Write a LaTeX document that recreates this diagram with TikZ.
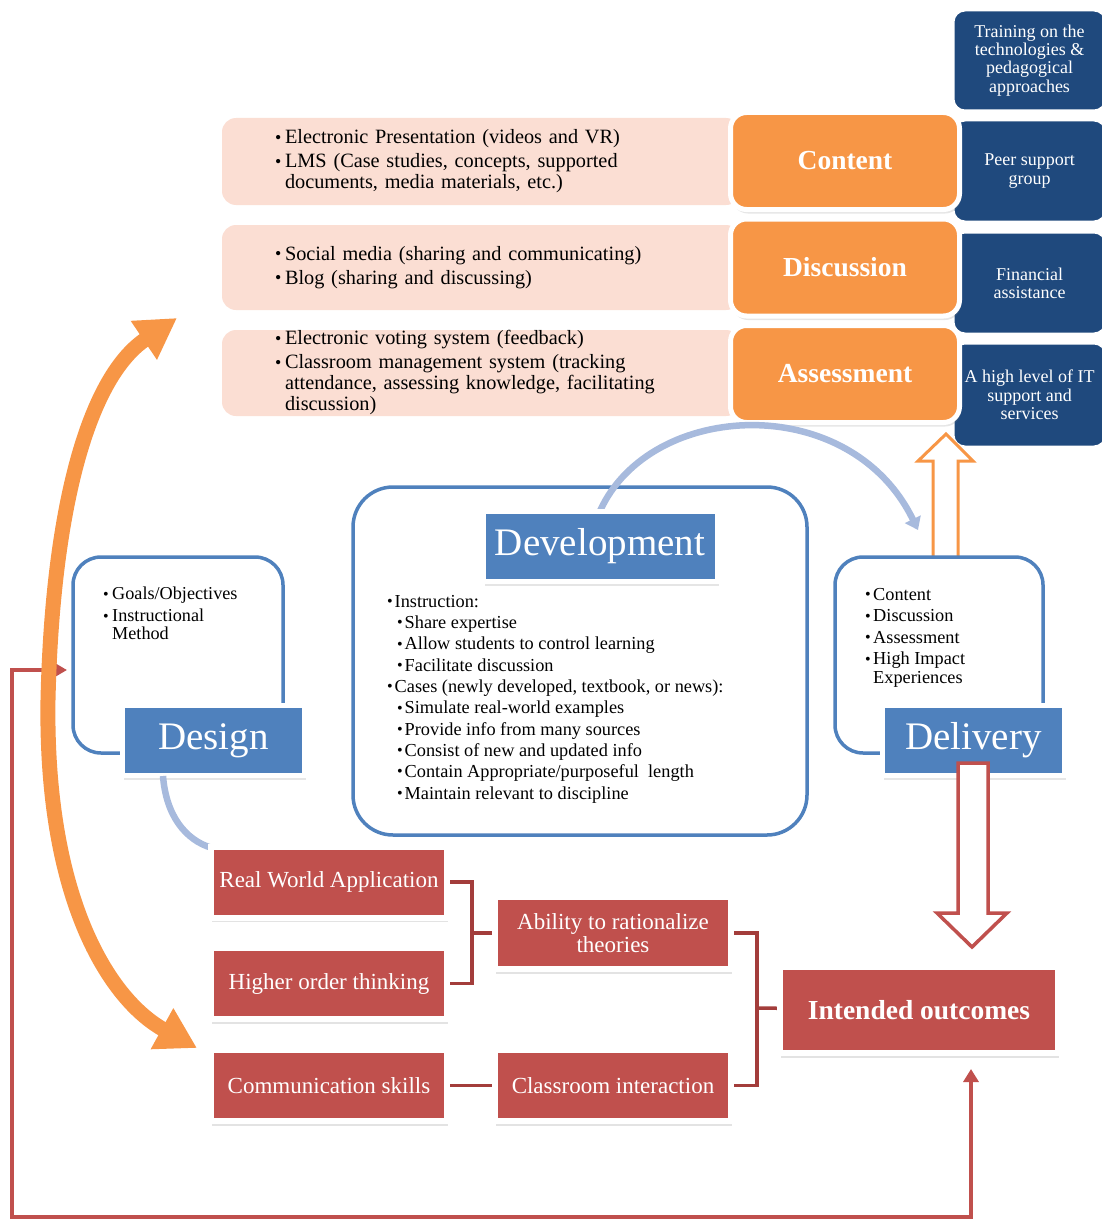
\documentclass[tikz,border=0pt]{standalone}
\usepackage{fontspec}
\usepackage{graphicx}
\setmainfont{Liberation Serif}
\definecolor{ADnavy}{HTML}{1F497D}
\definecolor{ADorange}{HTML}{F79646}
\definecolor{ADpink}{HTML}{FBDED3}
\definecolor{ADblue}{HTML}{4F81BD}
\definecolor{ADarc}{HTML}{A7BADD}
\definecolor{ADred}{HTML}{C0504D}
\definecolor{ADdark}{HTML}{A33D3B}
\usetikzlibrary{arrows.meta, shadows}
\newcommand{\bul}[1][10pt]{\makebox[#1][l]{\raisebox{0.04em}{\scalebox{0.88}{\textbullet}}}}

\begin{document}
\begin{tikzpicture}[x=1pt, y=-1pt,
  navybox/.style={draw=white, line width=3pt, fill=ADnavy, rounded corners=12pt,
    text=white, align=center, minimum width=153pt, inner sep=0pt,
    font=\fontsize{18}{18.3}\selectfont},
  pinkbox/.style={fill=ADpink, rounded corners=14pt, minimum width=518pt,
    text width=412pt, inner xsep=53pt, inner ysep=0pt, align=left,
    font=\fontsize{20.3}{21}\selectfont},
  orgbox/.style={fill=ADorange, draw=white, line width=5pt, rounded corners=16pt,
    minimum width=229pt, minimum height=97pt, text=white,
    font=\fontsize{27.5}{30}\selectfont\bfseries,
    drop shadow={shadow xshift=1.5pt, shadow yshift=-4pt, opacity=0.2}},
  phasebox/.style={draw=ADblue, line width=3.5pt, fill=white, rounded corners=28pt},
  lblbox/.style={fill=ADblue, draw=white, line width=5pt, text=white,
    minimum height=70pt, font=\fontsize{39}{42}\selectfont,
    drop shadow={shadow xshift=1.5pt, shadow yshift=-4.5pt, opacity=0.2}},
  listtxt/.style={anchor=north west, inner sep=0pt, align=left},
  outbox/.style={fill=ADred, draw=white, line width=6pt, text=white, align=center,
    minimum width=236pt, minimum height=71pt, font=\fontsize{23}{23}\selectfont,
    drop shadow={shadow xshift=1pt, shadow yshift=-4.5pt, opacity=0.22}},
  conn/.style={draw=ADdark, line width=3.5pt},
  arcline/.style={draw=ADarc, line width=6.5pt},
  fbline/.style={draw=ADred, line width=3.5pt,
    {Triangle[length=13pt,width=15pt]}-{Triangle[length=12pt,width=13pt]}},
  bigcurve/.style={draw=ADorange, line width=15pt,
    {Triangle[length=40pt,width=44pt]}-{Triangle[length=40pt,width=44pt]}}]

\useasboundingbox (0,0) rectangle (1102,1220);

% feedback loop and big orange double arrow
\coordinate (fbin) at (67,670);
\coordinate (fbout) at (971,1069);
\draw[fbline] (fbout) -- (971,1217) -| (12,670) -- (fbin);
\draw[bigcurve] (177,318) .. controls (85,380) and (52,520) .. (48,700)
  .. controls (45,900) and (110,1000) .. (197,1048);

% support column
\node[navybox, minimum height=101pt] (train) at (1029.5,60.5)
  {Training on the\\technologies \&\\pedagogical\\approaches};
\node[navybox, minimum height=102pt] (peer) at (1029.5,171) {Peer support\\group};
\node[navybox, minimum height=102pt] (fin) at (1029.5,283) {Financial\\assistance};
\node[navybox, minimum height=104pt] (itsup) at (1029.5,395)
  {A high level of IT\\support and\\services};

% tools
\node[pinkbox, minimum height=87pt] (tcont) at (481,161.5)
  {\bul Electronic Presentation (videos and VR)\\[3pt]
   \bul LMS (Case studies, concepts, supported\\
   \hspace*{10pt}documents, media materials, etc.)};
\node[pinkbox, minimum height=85pt] (tdisc) at (481,267.5)
  {\bul Social media (sharing and communicating)\\[3pt]
   \bul Blog (sharing and discussing)};
\node[pinkbox, minimum height=86pt] (tasmt) at (481,373)
  {\bul Electronic voting system (feedback)\\[3pt]
   \bul Classroom management system (tracking\\
   \hspace*{10pt}attendance, assessing knowledge, facilitating\\
   \hspace*{10pt}discussion)};

\node[orgbox] (cont) at (845,161) {Content};
\node[orgbox] (disc) at (845,267.5) {Discussion};
\node[orgbox] (asmt) at (845,374) {Assessment};

% delivery up to the tools
\draw[draw=ADorange, line width=3pt, fill=white]
  (933,560) -- (933,461) -- (918,461) -- (946,434) -- (973,461)
  -- (958,461) -- (958,560) -- cycle;

% phases
\node[phasebox, minimum width=210pt, minimum height=196pt] (dsg) at (178,655) {};
\node[phasebox, rounded corners=40pt, minimum width=454pt, minimum height=348pt]
  (dev) at (580,661) {};
\node[phasebox, minimum width=208pt, minimum height=196pt] (dlv) at (939,655) {};

% development to delivery arc
\draw[arcline, -{Triangle[length=12pt,width=17pt]}]
  (600,511) .. controls (650,400) and (850,390) .. (918,530);

\node[lblbox, minimum width=182pt] (dsglbl) at (213.5,740.5) {Design};
\node[lblbox, minimum width=234pt] (devlbl) at (600,546) {Development};
\node[lblbox, minimum width=182pt] (dlvlbl) at (973.5,740.5) {Delivery};

\node[listtxt, font=\fontsize{18.2}{17.5}\selectfont] (dsgtxt) at (103,587)
  {\bul[9pt]Goals/Objectives\\[4.5pt]
   \bul[9pt]Instructional\\
   \hspace*{9pt}Method};
\node[listtxt, font=\fontsize{18.3}{21.3}\selectfont] (devtxt) at (387,595)
  {\bul[7.5pt]Instruction:\\
   \hspace*{10pt}\bul[7.5pt]Share expertise\\
   \hspace*{10pt}\bul[7.5pt]Allow students to control learning\\
   \hspace*{10pt}\bul[7.5pt]Facilitate discussion\\
   \bul[7.5pt]Cases (newly developed, textbook, or news):\\
   \hspace*{10pt}\bul[7.5pt]Simulate real-world examples\\
   \hspace*{10pt}\bul[7.5pt]Provide info from many sources\\
   \hspace*{10pt}\bul[7.5pt]Consist of new and updated info\\
   \hspace*{10pt}\bul[7.5pt]Contain Appropriate/purposeful\ \ length\\
   \hspace*{10pt}\bul[7.5pt]Maintain relevant to discipline};
\node[listtxt, font=\fontsize{18.3}{19}\selectfont] (dlvtxt) at (865,588)
  {\bul[8pt]Content\\[2.5pt]
   \bul[8pt]Discussion\\[2.5pt]
   \bul[8pt]Assessment\\[2.5pt]
   \bul[8pt]High Impact\\
   \hspace*{8pt}Experiences};

% delivery down to outcomes
\draw[draw=ADred, line width=3.5pt, fill=white]
  (958,763) -- (958,913) -- (937,913) -- (972,947) -- (1007,913)
  -- (988,913) -- (988,763) -- cycle;

% outcomes
\draw[arcline] (163,776) .. controls (166,815) and (185,840) .. (212,848);

\coordinate (j1) at (472,933);
\coordinate (j2) at (757,1008);
\draw[conn] (329,882) -| (j1) |- (329,983.5);
\draw[conn] (j1) -- (613,933);
\draw[conn] (613,933) -| (j2) |- (613,1085.5);
\draw[conn] (j2) -- (919,1010);
\draw[conn] (329,1085.5) -- (613,1085.5);

\node[outbox] (rwa) at (329,882) {Real World Application};
\node[outbox] (hot) at (329,983.5) {Higher order thinking};
\node[outbox] (comm) at (329,1085.5) {Communication skills};
\node[outbox, minimum height=72pt] (abil) at (613,933)
  {Ability to rationalize\\theories};
\node[outbox] (cls) at (613,1085.5) {Classroom interaction};
\node[outbox, minimum width=278pt, minimum height=86pt,
  font=\fontsize{27.5}{30}\selectfont\bfseries] (intd) at (919,1010)
  {Intended outcomes};
\end{tikzpicture}
\end{document}
